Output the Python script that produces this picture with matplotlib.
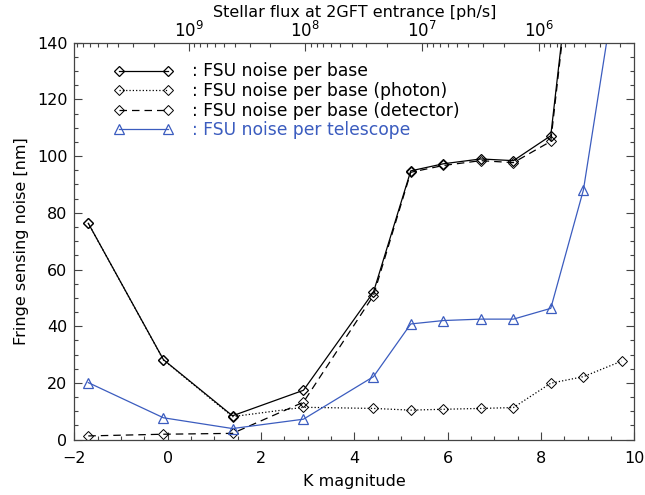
import numpy as np
import matplotlib
matplotlib.use("Agg")
import matplotlib.pyplot as plt
from matplotlib.ticker import MultipleLocator, LogLocator

# values
kmag = [-1.70, -0.09, 1.39, 2.91, 4.41, 5.21, 5.91, 6.71, 7.41, 8.21, 8.91, 9.73]
noise_base = [76.3, 28.2, 8.4, 17.4, 52.0, 94.8, 97.3, 99.0, 98.4, 107.2, 208.0, 410.0]
noise_photon = [76.3, 28.1, 8.1, 11.4, 11.0, 10.4, 10.7, 11.0, 11.3, 19.9, 22.2, 27.7]
noise_detector = [1.3, 1.9, 2.2, 13.2, 50.8, 94.3, 96.7, 98.4, 97.7, 105.2, 207.0, 409.0]
noise_tel = [20.1, 7.7, 3.9, 7.2, 22.2, 40.8, 42.0, 42.5, 42.5, 46.3, 88.1, 174.0]

# flux zero point: log10(F) = flux_zp - 0.4*K
flux_zp = 9.18

blue = '#3b5cbf'
fs = 11.5
plt.rcParams['font.family'] = ['DejaVu Sans']
plt.rcParams['font.size'] = fs
plt.rcParams['mathtext.default'] = 'regular'

fig = plt.figure(figsize=(6.45, 4.95), dpi=100)
ax = fig.add_axes([0.1152, 0.1119, 0.9834 - 0.1152, 0.9137 - 0.1119])

lw = 0.9
ms = 4.8
ax.plot(kmag, noise_base, '-', color='k', lw=lw, marker='D', ms=ms, mfc='none', mec='k', mew=0.9,
        label=': FSU noise per base')
ax.plot(kmag, noise_photon, ':', color='k', lw=lw, marker='D', ms=ms, mfc='none', mec='k', mew=0.7,
        label=': FSU noise per base (photon)')
ax.plot(kmag, noise_detector, '--', color='k', lw=lw, dashes=(6, 4), marker='D', ms=ms, mfc='none',
        mec='k', mew=0.7, label=': FSU noise per base (detector)')
ax.plot(kmag, noise_tel, '-', color=blue, lw=lw, marker='^', ms=6.5, mfc='none', mec=blue, mew=0.9,
        label=': FSU noise per telescope')

ax.set_xlim(-2, 10)
ax.set_ylim(0, 140)
ax.xaxis.set_major_locator(MultipleLocator(2))
ax.xaxis.set_minor_locator(MultipleLocator(0.5))
ax.yaxis.set_major_locator(MultipleLocator(20))
ax.yaxis.set_minor_locator(MultipleLocator(5))
ax.tick_params(which='both', direction='in', right=True, top=False, color='#444444')
ax.tick_params(which='major', length=5.5, width=0.8)
ax.tick_params(which='minor', length=2.8, width=0.8)
ax.tick_params(axis='x', pad=8)
ax.tick_params(axis='y', pad=5)
for sp in ax.spines.values():
    sp.set_color('#444444')
    sp.set_linewidth(0.9)
# the "0" label sits just above the corner
ax.yaxis.get_major_ticks()[0].label1.set_verticalalignment('bottom')

ax.set_xlabel('K magnitude', labelpad=6)
ax.set_ylabel('Fringe sensing noise [nm]', labelpad=6)

# top axis: stellar flux, log scale, decreasing with K
top = ax.twiny()
top.set_xscale('log')
top.set_xlim(10 ** (flux_zp - 0.4 * -2), 10 ** (flux_zp - 0.4 * 10))
top.xaxis.set_major_locator(LogLocator(base=10, numticks=10))
top.xaxis.set_minor_locator(LogLocator(base=10, subs=np.arange(2, 10), numticks=20))
top.tick_params(which='both', direction='in', color='#444444', labelsize=12)
top.tick_params(which='major', length=5.5, width=0.8, pad=1)
top.tick_params(which='minor', length=2.8, width=0.8)
top.set_xlabel('Stellar flux at 2GFT entrance [ph/s]', labelpad=3, fontsize=11.5)
for sp in top.spines.values():
    sp.set_visible(False)

lfs = 12.3
leg = ax.legend(loc='upper left', bbox_to_anchor=(114.0 / 645, 1 - 62.5 / 495),
                bbox_transform=fig.transFigure, frameon=False, numpoints=2,
                handlelength=3.46, handletextpad=1.1, borderpad=0, borderaxespad=0,
                labelspacing=0.09, fontsize=lfs)
leg.get_texts()[3].set_color(blue)

fig.savefig('out.png', dpi=100)
